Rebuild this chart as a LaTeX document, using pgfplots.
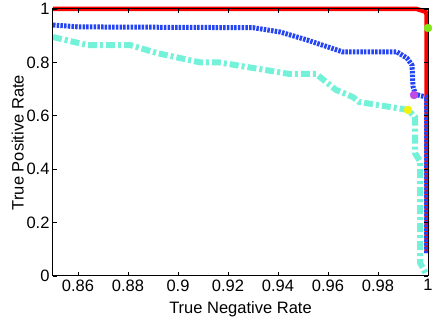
\documentclass[border=0pt]{standalone}
\usepackage{fontspec}
\setmainfont{Liberation Sans}
\usepackage{pgfplots}
\pgfplotsset{compat=1.18}
\definecolor{rocred}{rgb}{1,0,0}
\definecolor{rocblue}{rgb}{0.15,0.27,0.95}
\definecolor{rocaqua}{rgb}{0.45,0.95,0.85}
\definecolor{mkgreen}{rgb}{0.5,0.9,0.1}
\definecolor{mkpurple}{rgb}{0.75,0.3,0.9}
\definecolor{mkyellow}{rgb}{0.95,0.95,0.05}
\begin{document}
\begin{tikzpicture}
\useasboundingbox (-53pt,-45pt) rectangle (384pt,276pt);
\begin{axis}[
    at={(0,0)}, anchor=south west,
    scale only axis,
    width=375pt, height=267pt,
    xmin=0.85, xmax=1,
    ymin=0, ymax=1,
    clip=false,
    axis on top,
    axis line style={line width=1pt},
    tick align=inside,
    major tick length=4pt,
    tick style={black, line width=0.8pt},
    xtick={0.86,0.88,0.9,0.92,0.94,0.96,0.98,1},
    xticklabels={0.86,0.88,0.9,0.92,0.94,0.96,0.98,1},
    ytick={0,0.2,0.4,0.6,0.8,1},
    yticklabels={0,0.2,0.4,0.6,0.8,1},
    font=\fontsize{16.5}{19}\selectfont,
    xlabel={True Negative Rate},
    ylabel={True Positive Rate},
    xlabel style={yshift=-3pt},
    ylabel style={yshift=-4pt},
]

% aquamarine curve
\addplot[rocaqua, line width=6pt, dash pattern=on 9pt off 3pt on 3pt off 3pt] coordinates {
    (0.85,0.895) (0.8636,0.865) (0.8808,0.865) (0.8916,0.835) (0.9088,0.80)
    (0.9164,0.80) (0.9444,0.757) (0.9552,0.757) (0.9632,0.697) (0.97,0.67)
    (0.9724,0.652) (0.992,0.622) (0.9948,0.596) (0.9948,0.46) (0.9968,0.43)
    (0.9968,0.05) (0.9985,0.02) (0.9995,0)
};

% red curve
\addplot[rocred, line width=4.5pt] coordinates {
    (0.85,1) (0.9955,1) (0.999,0.99) (0.9994,0.98) (0.9994,0.086)
};

% blue curve
\addplot[rocblue, line width=5pt, dash pattern=on 2.5pt off 1.2pt] coordinates {
    (0.85,0.94) (0.86,0.933) (0.93,0.93) (0.9408,0.914) (0.9516,0.884)
    (0.966,0.839) (0.9876,0.839) (0.9916,0.816) (0.9936,0.79) (0.994,0.71)
    (0.995,0.68) (0.9994,0.67) (0.9994,0.086)
};

% operating points
\addplot[only marks, mark=*, mark size=4pt, mkgreen, mark options={draw=mkgreen}] coordinates {(1,0.929)};
\addplot[only marks, mark=*, mark size=4pt, mkpurple, mark options={draw=mkpurple}] coordinates {(0.9944,0.678)};
\addplot[only marks, mark=*, mark size=4pt, mkyellow, mark options={draw=mkyellow}] coordinates {(0.992,0.622)};

\end{axis}
\end{tikzpicture}
\end{document}
